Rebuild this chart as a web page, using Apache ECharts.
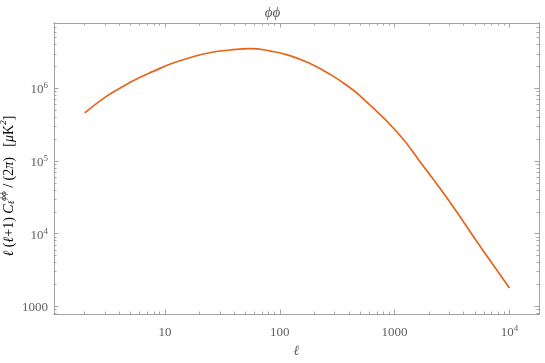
<!DOCTYPE html>
<html>
<head>
<meta charset="utf-8">
<script src="https://cdn.jsdelivr.net/npm/echarts@6/dist/echarts.min.js"></script>
<style>html,body{margin:0;padding:0;background:#fff}#c{width:545px;height:363px}</style>
</head>
<body>
<div id="c"></div>
<script>
// multipole ℓ and ℓ(ℓ+1)C_ℓ^ϕϕ/(2π)
const ell = [2, 3, 4, 6, 8, 11, 17, 25, 37, 55, 83, 124, 185, 275, 410, 500, 1050, 1790, 3050, 5200, 8300, 10000];
const clphi = [4.6e5, 7.52e5, 9.98e5, 1.41e6, 1.73e6, 2.15e6, 2.69e6, 3.12e6, 3.38e6, 3.53e6, 3.27e6, 2.81e6, 2.19e6, 1.56e6, 1.02e6, 7.9e5, 2.51e5, 8.4e4, 2.69e4, 7.8e3, 2.72e3, 1.79e3];

const xTicks = [10, 100, 1000, 10000];
const xTickLabels = ['{b|10}', '{b|100}', '{b|1000}', '{b|10}{s|4}'];
const yTicks = [1000, 10000, 100000, 1000000];
const yTickLabels = ['{b|1000}', '{b|10}{s|4}', '{b|10}{s|5}', '{b|10}{s|6}'];

const xMin = 1.08, xMax = 18100;
const yMin = 780, yMax = 7.96e6;

function minors(lo, hi) {
  const out = [];
  for (let d = 1; d <= 1e7; d *= 10) {
    for (let k = 2; k <= 9; k++) {
      const v = k * d;
      if (v > lo && v < hi) out.push(v);
    }
  }
  return out;
}

const frame = '#a3a3a3';
const txt = '#606060';
const font = '"Liberation Serif","DejaVu Serif",serif';
const rich = {
  b: {fontFamily: font, fontSize: 13, color: txt, lineHeight: 16, verticalAlign: 'bottom'},
  s: {fontFamily: font, fontSize: 9, color: txt, lineHeight: 16, verticalAlign: 'bottom', padding: [0, 0, 6, 0]}
};

function axis(kind, pos, tickVals, len, labels) {
  const isX = kind === 'x';
  const a = {
    type: 'log', logBase: 10,
    min: isX ? xMin : yMin, max: isX ? xMax : yMax,
    position: pos,
    axisLine: {show: true, lineStyle: {color: frame, width: 1}},
    axisTick: {show: true, inside: true, length: len, customValues: tickVals, lineStyle: {color: frame, width: 1}},
    splitLine: {show: false},
    minorTick: {show: false},
    axisLabel: {show: false}
  };
  if (labels) {
    const vals = isX ? xTicks : yTicks;
    const labs = isX ? xTickLabels : yTickLabels;
    a.axisLabel = {
      show: true,
      customValues: vals,
      margin: isX ? 9 : 6,
      hideOverlap: false,
      formatter: function (v) {
        let best = 0, bd = Infinity;
        for (let i = 0; i < vals.length; i++) {
          const d = Math.abs(Math.log10(vals[i]) - Math.log10(v));
          if (d < bd) { bd = d; best = i; }
        }
        return labs[best];
      },
      rich: rich
    };
  }
  return a;
}

const chart = echarts.init(document.getElementById('c'), null, {renderer: 'canvas'});
const xMinor = minors(xMin, xMax), yMinor = minors(yMin, yMax);

chart.setOption({
  animation: false,
  backgroundColor: '#fff',
  title: {
    text: 'ϕϕ', left: 'center', top: 1,
    textStyle: {fontFamily: font, fontStyle: 'italic', fontWeight: 'normal', fontSize: 15, color: txt}
  },
  grid: {left: 54, right: 6, top: 23, bottom: 42, containLabel: false},
  xAxis: [
    Object.assign(axis('x', 'bottom', xTicks, 4.5, true), {
      name: 'ℓ', nameLocation: 'middle', nameGap: 25,
      nameTextStyle: {fontFamily: font, fontStyle: 'italic', fontSize: 14, color: txt}
    }),
    axis('x', 'bottom', xMinor, 2.5, false),
    axis('x', 'top', xTicks, 4.5, false),
    axis('x', 'top', xMinor, 2.5, false)
  ],
  yAxis: [
    axis('y', 'left', yTicks, 4.5, true),
    axis('y', 'left', yMinor, 2.5, false),
    axis('y', 'right', yTicks, 4.5, false),
    axis('y', 'right', yMinor, 2.5, false)
  ],
  graphic: [{
    type: 'text',
    x: 7, y: 186,
    rotation: Math.PI / 2,
    style: {
      text: '{i|ℓ} {n|(}{i|ℓ}{n|+1)} {i|C}{sb|ℓ}{sp|ϕϕ}{n| / (2}{i|π}{n|)   [}{i|μ}{n|K}{sp|2}{n|]}',
      align: 'center', verticalAlign: 'middle',
      rich: {
        i: {fontFamily: font, fontStyle: 'italic', fontSize: 14, color: txt, lineHeight: 18, verticalAlign: 'bottom'},
        n: {fontFamily: font, fontSize: 14, color: txt, lineHeight: 18, verticalAlign: 'bottom'},
        sb: {fontFamily: font, fontStyle: 'italic', fontSize: 9, color: txt, lineHeight: 18, verticalAlign: 'bottom', padding: [0, 0, 0, 0]},
        sp: {fontFamily: font, fontStyle: 'italic', fontSize: 9, color: txt, lineHeight: 18, verticalAlign: 'bottom', padding: [0, 0, 8, 0]}
      }
    }
  }],
  series: [{
    type: 'line',
    xAxisIndex: 0, yAxisIndex: 0,
    data: ell.map((l, i) => [l, clphi[i]]),
    showSymbol: false,
    smooth: 0.5,
    smoothMonotone: 'none',
    lineStyle: {color: '#e6641a', width: 1.7},
    itemStyle: {color: '#e6641a'}
  }]
});
</script>
</body>
</html>
